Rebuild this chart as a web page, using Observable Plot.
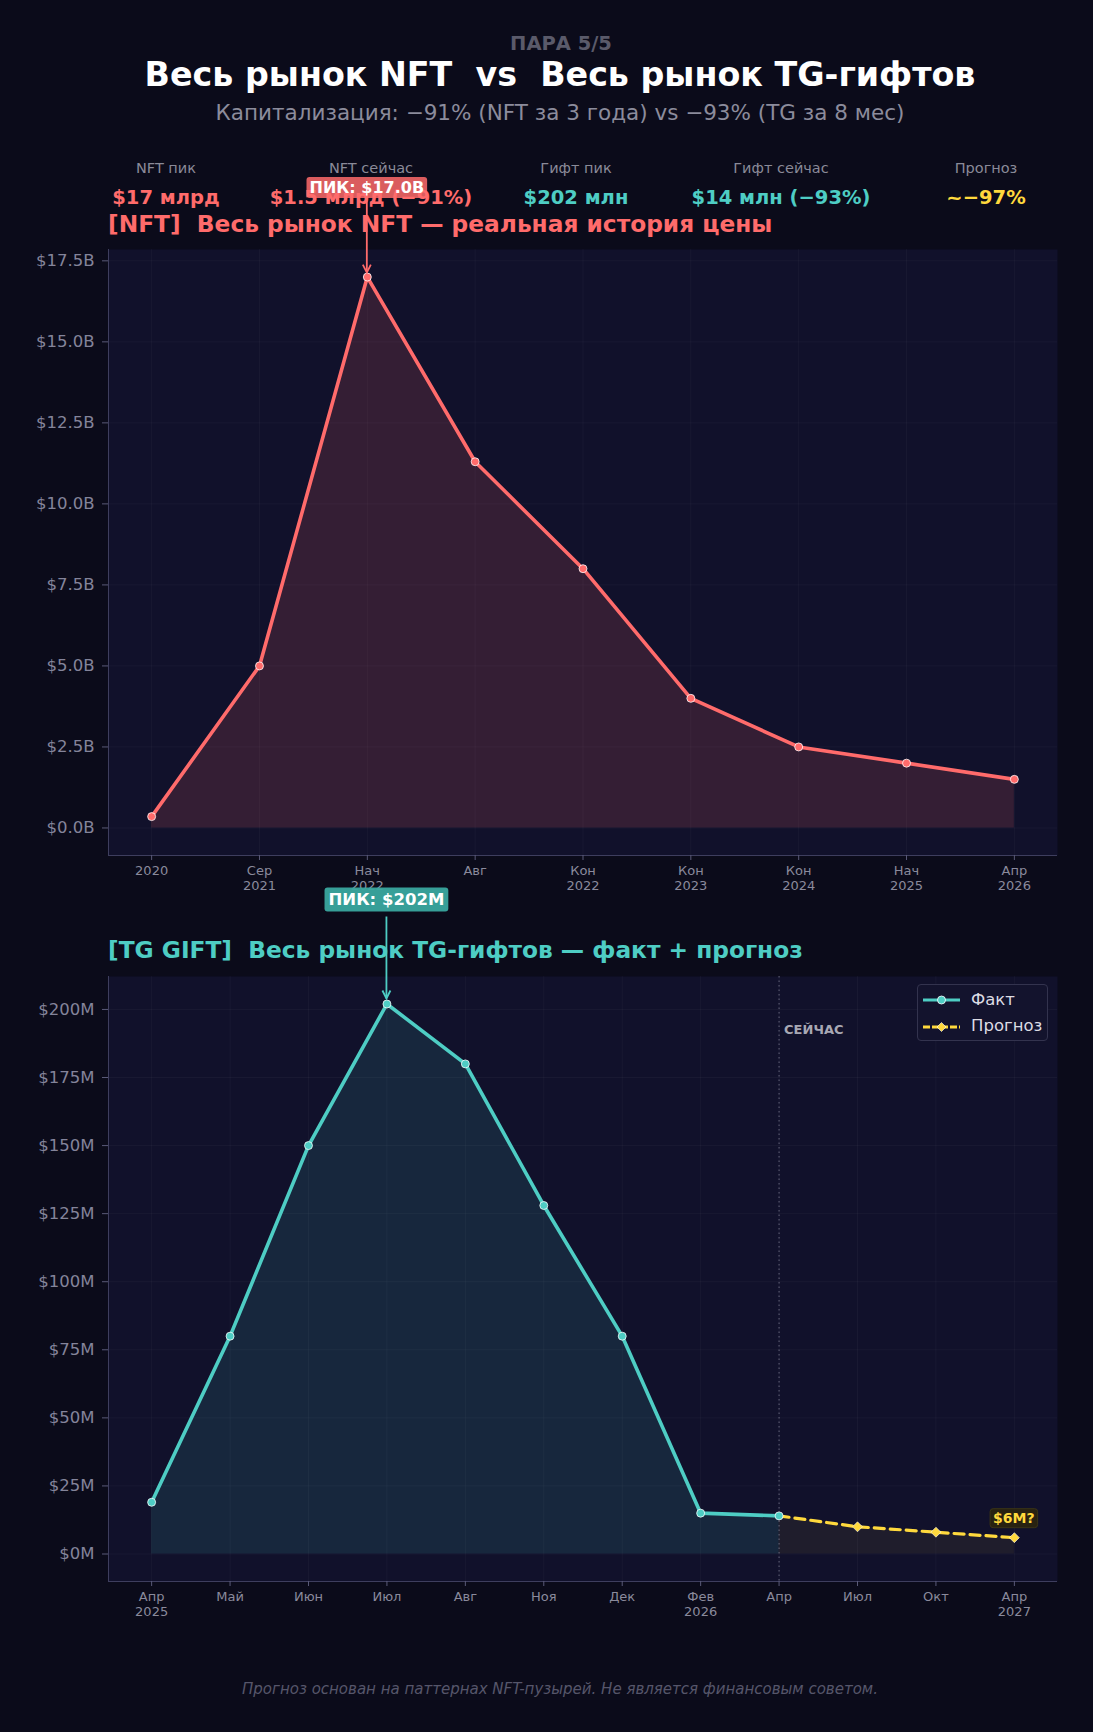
<!DOCTYPE html>
<html><head><meta charset="utf-8">
<script src="https://cdn.jsdelivr.net/npm/d3@7"></script>
<script src="https://cdn.jsdelivr.net/npm/@observablehq/plot@0.6"></script>
<style>
body{margin:0;background:#0b0b1a;}
#page{position:relative;width:1093px;height:1732px;background:#0b0b1a;font-family:"DejaVu Sans",sans-serif;overflow:hidden;}
.t{position:absolute;white-space:pre;line-height:1;}
.chart{position:absolute;left:0;}
.chart svg{overflow:visible;}
</style></head><body><div id="page"></div>
<script>
// ---------- DATA ----------
const nftLabels = ["2020","Сер\n2021","Нач\n2022","Авг","Кон\n2022","Кон\n2023","Кон\n2024","Нач\n2025","Апр\n2026"];
const nftValues = [0.35, 5.0, 17.0, 11.3, 8.0, 4.0, 2.5, 2.0, 1.5]; // $B
const nftYTicks = [0, 2.5, 5, 7.5, 10, 12.5, 15, 17.5];

const giftLabels = ["Апр\n2025","Май","Июн","Июл","Авг","Ноя","Дек","Фев\n2026","Апр","Июл","Окт","Апр\n2027"];
const giftFact = [19, 80, 150, 202, 180, 128, 80, 15, 14]; // $M, indices 0..8
const giftForecast = [14, 10, 8, 6];                        // $M, indices 8..11
const giftForecastStart = 8;
const giftYTicks = [0, 25, 50, 75, 100, 125, 150, 175, 200];

const headerKicker = "ПАРА 5/5";
const headerTitle = "Весь рынок NFT  vs  Весь рынок TG-гифтов";
const headerSub = "Капитализация: −91% (NFT за 3 года) vs −93% (TG за 8 мес)";
const statLabels = ["NFT пик","NFT сейчас","Гифт пик","Гифт сейчас","Прогноз"];
const statValues = ["$17 млрд","$1.5 млрд (−91%)","$202 млн","$14 млн (−93%)","~−97%"];
const nftTitle = "[NFT]  Весь рынок NFT — реальная история цены";
const giftTitle = "[TG GIFT]  Весь рынок TG-гифтов — факт + прогноз";
const nowLabel = "СЕЙЧАС";
const legendLabels = ["Факт", "Прогноз"];
const footer = "Прогноз основан на паттернах NFT-пузырей. Не является финансовым советом.";

// ---------- STYLE ----------
const RED = "#ff6b6b", TEAL = "#4ecdc4", YEL = "#ffd93d";
const statColors = [RED, RED, TEAL, TEAL, YEL];
const page = document.getElementById("page");

function addText(txt, o) {
  const d = document.createElement("div");
  d.className = "t";
  d.textContent = txt;
  d.style.left = o.x + "px";
  d.style.top = o.top + "px";
  d.style.fontSize = o.size + "px";
  d.style.fontWeight = o.bold ? "bold" : "normal";
  if (o.italic) d.style.fontStyle = "italic";
  d.style.color = o.color;
  if (o.center) d.style.transform = "translateX(-50%)";
  page.appendChild(d);
}

addText(headerKicker, {x: 561, top: 34, size: 19.5, bold: true, color: "#5a5a6a", center: true});
addText(headerTitle, {x: 560, top: 58, size: 33.3, bold: true, color: "#ffffff", center: true});
addText(headerSub, {x: 560, top: 101.5, size: 21.5, color: "#8c8c9c", center: true});
const statX = [166, 371, 576, 781, 986];
statLabels.forEach((s, k) => addText(s, {x: statX[k], top: 161, size: 14.5, color: "#8a8a98", center: true}));
statValues.forEach((s, k) => addText(s, {x: statX[k], top: 187.5, size: 19.5, bold: true, color: statColors[k], center: true}));
addText(nftTitle, {x: 108, top: 211.5, size: 23.3, bold: true, color: RED});
addText(giftTitle, {x: 108, top: 937.5, size: 23.3, bold: true, color: TEAL});
addText(footer, {x: 560, top: 1681.5, size: 15, italic: true, color: "#56566a", center: true});

function pad(n) { const p = 0.05 * (n - 1); return [-p, n - 1 + p]; }
function padY(max) { const p = 0.05 * max; return [-p, max + p]; }

const nftData = nftValues.map((v, i) => ({i, v}));
const nftIdx = nftLabels.map((_, i) => i);
const nftXD = pad(nftLabels.length);
const nftYD = padY(d3.max(nftValues));

const gridStyle = {stroke: "#ffffff", strokeOpacity: 0.035};
const spine = "#3e3e5e";

function mount(chart, top) {
  const w = document.createElement("div");
  w.className = "chart";
  w.style.top = top + "px";
  w.appendChild(chart);
  page.appendChild(w);
  return chart;
}

const chartStyle = {background: "transparent", color: "#8a8a9c", fontFamily: "DejaVu Sans", overflow: "visible"};
const xAxisOpts = {fontSize: 13, lineHeight: 1.15, tickSize: 5, tickPadding: 4, stroke: "#5a5a78", fill: "#8a8a9c", label: null};
const yAxisOpts = {fontSize: 16.5, tickSize: 6, tickPadding: 8, stroke: "#5a5a78", fill: "#84849a", label: null};

const nftChart = mount(Plot.plot({
  width: 1093, height: 680,
  marginTop: 9, marginBottom: 65, marginLeft: 108, marginRight: 36,
  style: chartStyle,
  x: {type: "linear", domain: nftXD, axis: null},
  y: {domain: nftYD, axis: null},
  marks: [
    Plot.frame({fill: "#11112b", stroke: null}),
    Plot.gridX({ticks: nftIdx, ...gridStyle}),
    Plot.gridY({ticks: nftYTicks, ...gridStyle}),
    Plot.areaY(nftData, {x: "i", y: "v", fill: RED, fillOpacity: 0.15}),
    Plot.lineY(nftData, {x: "i", y: "v", stroke: RED, strokeWidth: 3.6}),
    Plot.dot(nftData, {x: "i", y: "v", r: 4, fill: RED, stroke: "#ffffff", strokeWidth: 0.9, strokeOpacity: 0.85}),
    Plot.ruleX([nftXD[0]], {stroke: spine}),
    Plot.ruleY([nftYD[0]], {stroke: spine}),
    Plot.axisX({ticks: nftIdx, tickFormat: i => nftLabels[i], ...xAxisOpts}),
    Plot.axisY({ticks: nftYTicks, tickFormat: v => `$${v.toFixed(1)}B`, ...yAxisOpts})
  ]
}), 240);

const factData = giftFact.map((v, i) => ({i, v}));
const fcData = giftForecast.map((v, k) => ({i: giftForecastStart + k, v}));
const giftIdx = giftLabels.map((_, i) => i);
const giftXD = pad(giftLabels.length);
const giftYD = padY(d3.max(giftFact.concat(giftForecast)));

const giftChart = mount(Plot.plot({
  width: 1093, height: 700,
  marginTop: 16, marginBottom: 79, marginLeft: 108, marginRight: 36,
  style: chartStyle,
  x: {type: "linear", domain: giftXD, axis: null},
  y: {domain: giftYD, axis: null},
  marks: [
    Plot.frame({fill: "#11112b", stroke: null}),
    Plot.gridX({ticks: giftIdx, ...gridStyle}),
    Plot.gridY({ticks: giftYTicks, ...gridStyle}),
    Plot.areaY(factData, {x: "i", y: "v", fill: TEAL, fillOpacity: 0.12}),
    Plot.areaY(fcData, {x: "i", y: "v", fill: YEL, fillOpacity: 0.06}),
    Plot.ruleX([giftForecastStart], {stroke: "#8a8a9c", strokeOpacity: 0.7, strokeDasharray: "1.5,3"}),
    Plot.lineY(fcData, {x: "i", y: "v", stroke: YEL, strokeWidth: 3.2, strokeDasharray: "10,6"}),
    Plot.lineY(factData, {x: "i", y: "v", stroke: TEAL, strokeWidth: 3.6}),
    Plot.dot(factData, {x: "i", y: "v", r: 4, fill: TEAL, stroke: "#ffffff", strokeWidth: 0.9, strokeOpacity: 0.85}),
    Plot.dot(fcData.slice(1), {x: "i", y: "v", r: 4.5, symbol: "diamond2", fill: YEL, stroke: "#ffffff", strokeWidth: 0.7, strokeOpacity: 0.8}),
    Plot.text([nowLabel], {x: () => giftForecastStart, text: d => d, frameAnchor: "top", dy: 48, dx: 5, textAnchor: "start", fill: "#a8a8b4", fontWeight: "bold", fontSize: 13}),
    Plot.ruleX([giftXD[0]], {stroke: spine}),
    Plot.ruleY([giftYD[0]], {stroke: spine}),
    Plot.axisX({ticks: giftIdx, tickFormat: i => giftLabels[i], ...xAxisOpts}),
    Plot.axisY({ticks: giftYTicks, tickFormat: v => `$${v}M`, ...yAxisOpts})
  ]
}), 960);

// ---------- ANNOTATIONS (positioned with the charts' own scales) ----------
function callout(chart, idx, val, txt, o) {
  const sx = chart.scale("x"), sy = chart.scale("y");
  const px = sx.apply(idx), py = sy.apply(val);
  const g = d3.select(chart).append("g");
  if (o.arrow) {
    const y0 = py + o.arrow[0], y1 = py + o.arrow[1];
    g.append("line").attr("x1", px).attr("x2", px).attr("y1", y0).attr("y2", y1)
      .attr("stroke", o.arrowColor).attr("stroke-width", 1.8);
    g.append("path").attr("d", `M${px - 4},${y1 - 8}L${px},${y1}L${px + 4},${y1 - 8}`)
      .attr("fill", "none").attr("stroke", o.arrowColor).attr("stroke-width", 1.8);
  }
  const rect = g.append("rect");
  const t = g.append("text").attr("x", px).attr("y", py + o.dy)
    .attr("text-anchor", "middle").attr("dominant-baseline", "central")
    .attr("font-family", "DejaVu Sans").attr("font-weight", "bold")
    .attr("font-size", o.size).attr("fill", o.color).text(txt);
  const b = t.node().getBBox();
  rect.attr("x", b.x - o.padX).attr("y", b.y - o.padY)
    .attr("width", b.width + 2 * o.padX).attr("height", b.height + 2 * o.padY)
    .attr("rx", 3).attr("fill", o.box).attr("fill-opacity", o.boxOpacity)
    .attr("stroke", o.boxStroke || "none");
}

const nftPeak = d3.maxIndex(nftValues);
callout(nftChart, nftPeak, nftValues[nftPeak], `ПИК: $${nftValues[nftPeak].toFixed(1)}B`,
  {dy: -89, arrow: [-76, -4], arrowColor: RED, size: 16, color: "#ffffff", box: RED, boxOpacity: 0.85, padX: 3, padY: 1});
const giftPeak = d3.maxIndex(giftFact);
callout(giftChart, giftPeak, giftFact[giftPeak], `ПИК: $${giftFact[giftPeak]}M`,
  {dy: -104, arrow: [-87, -5], arrowColor: TEAL, size: 16.5, color: "#ffffff", box: "#3aa89f", boxOpacity: 0.95, padX: 4, padY: 2.5});
const last = fcData[fcData.length - 1];
callout(giftChart, last.i, last.v, `$${last.v}M?`,
  {dy: -19, size: 14, color: YEL, box: "#2a2410", boxOpacity: 0.95, padX: 3, padY: 1.5, boxStroke: "#3a3416"});

// ---------- LEGEND ----------
const leg = document.createElement("div");
leg.style.cssText = "position:absolute;left:917px;top:984px;width:131px;height:57px;box-sizing:border-box;border:1px solid #33334e;border-radius:4px;background:#13132d;";
page.appendChild(leg);
const legItems = [
  {label: legendLabels[0], color: TEAL, dash: null, sym: "circle"},
  {label: legendLabels[1], color: YEL, dash: "7,2", sym: "diamond"}
];
legItems.forEach((it, k) => {
  const cy = 15 + k * 26.7;
  const s = d3.select(leg).append("svg").attr("width", 40).attr("height", 12)
    .style("position", "absolute").style("left", "4px").style("top", (cy - 6) + "px");
  s.append("line").attr("x1", 1).attr("x2", 38).attr("y1", 6).attr("y2", 6)
    .attr("stroke", it.color).attr("stroke-width", 3.2).attr("stroke-dasharray", it.dash);
  if (it.sym === "circle") s.append("circle").attr("cx", 19.5).attr("cy", 6).attr("r", 4).attr("fill", it.color).attr("stroke", "#fff").attr("stroke-width", 0.8);
  else s.append("path").attr("d", "M19.5,1.5L24,6L19.5,10.5L15,6Z").attr("fill", it.color).attr("stroke", "#fff").attr("stroke-width", 0.6);
  const t = document.createElement("div");
  t.className = "t";
  t.textContent = it.label;
  t.style.cssText += `left:53px;top:${cy - 8.5}px;font-size:16.5px;color:#dcdce4;`;
  leg.appendChild(t);
});
</script></body></html>
